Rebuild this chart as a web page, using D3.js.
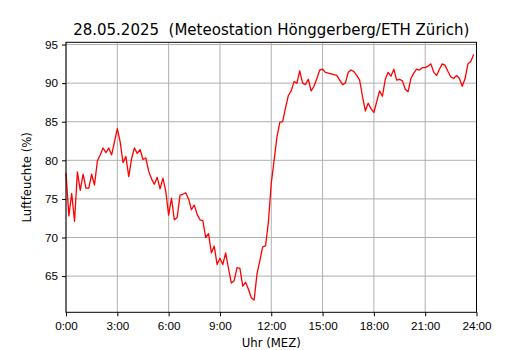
<!DOCTYPE html>
<html lang="de">
<head>
    <meta charset="utf-8">
    <title>Luftfeuchte Hönggerberg</title>
    <script src="https://d3js.org/d3.v7.min.js"></script>
    <style>
        body { margin: 0; background: white; }
        svg { display: block; font-family: "DejaVu Sans", sans-serif; }
        .tick text { font-size: 11.7px; fill: black; }
        .grid line { stroke: #b0b0b0; stroke-width: 1; }
    </style>
</head>
<body>
<div id="chart"></div>
<script>
    // relative humidity (%), 10-minute values from 0:00
    const startHour = 0;
    const stepMinutes = 10;
    const humidity = [
        78.4, 72.8, 75.7, 72.1, 78.5, 76.1, 78.2, 76.4, 76.4, 78.2, 76.8, 79.9,
        80.7, 81.6, 81.0, 81.6, 80.7, 82.4, 84.1, 82.4, 79.7, 80.5, 77.9, 80.2,
        81.6, 80.9, 81.4, 80.1, 80.3, 78.6, 77.6, 76.9, 77.8, 76.3, 77.7, 76.0,
        72.9, 75.1, 72.3, 72.6, 75.5, 75.6, 75.8, 75.0, 73.6, 74.2, 73.0, 72.3,
        72.2, 70.0, 70.5, 68.0, 68.9, 66.5, 67.3, 66.5, 68.0, 66.0, 64.1, 64.4,
        66.1, 66.0, 63.7, 64.2, 63.3, 62.2, 61.9, 65.3, 67.0, 68.8, 68.9, 72.0,
        77.0, 80.0, 83.0, 84.9, 85.0, 86.8, 88.4, 89.0, 90.2, 90.0, 91.6, 90.0,
        89.8, 90.5, 89.0, 89.6, 90.6, 91.7, 91.8, 91.4, 91.3, 91.2, 91.1, 91.0,
        90.4, 89.8, 90.0, 91.4, 91.7, 91.5, 91.0, 90.4, 88.3, 86.4, 87.4, 86.7,
        86.2, 87.6, 89.0, 88.3, 90.5, 91.4, 90.9, 91.8, 90.4, 90.5, 90.3, 89.2,
        88.9, 90.6, 91.3, 91.8, 91.7, 92.0, 92.0, 92.2, 92.5, 91.4, 91.0, 91.8,
        92.5, 92.3, 91.5, 90.8, 90.6, 91.0, 90.6, 89.6, 90.6, 92.5, 92.8, 93.7
    ];
    const xTicks = [0, 3, 6, 9, 12, 15, 18, 21, 24];
    const xTickLabels = ["0:00", "3:00", "6:00", "9:00", "12:00", "15:00", "18:00", "21:00", "24:00"];
    const yTicks = [65, 70, 75, 80, 85, 90, 95];

    const width = 530, height = 350;
    const margin = {top: 42.3, right: 53.5, bottom: 37.7, left: 66};

    const svg = d3.select("#chart").append("svg")
        .attr("width", width)
        .attr("height", height);

    const data = humidity.map((v, i) => ({h: startHour + i * stepMinutes / 60, v: v}));

    const x = d3.scaleLinear()
        .domain([0, 24])
        .range([margin.left, width - margin.right]);

    // matplotlib style 5% padding
    const ext = d3.extent(humidity);
    const pad = (ext[1] - ext[0]) * 0.05;
    const y = d3.scaleLinear()
        .domain([ext[0] - pad, ext[1] + pad])
        .range([height - margin.bottom, margin.top]);

    // grid
    const grid = svg.append("g").attr("class", "grid");
    grid.selectAll("line.gx").data(xTicks).enter().append("line")
        .attr("x1", d => x(d)).attr("x2", d => x(d))
        .attr("y1", margin.top).attr("y2", height - margin.bottom);
    grid.selectAll("line.gy").data(yTicks).enter().append("line")
        .attr("x1", margin.left).attr("x2", width - margin.right)
        .attr("y1", d => y(d)).attr("y2", d => y(d));

    // line
    const line = d3.line().x(d => x(d.h)).y(d => y(d.v));
    svg.append("path")
        .datum(data)
        .attr("fill", "none")
        .attr("stroke", "red")
        .attr("stroke-width", 1.3)
        .attr("stroke-linejoin", "round")
        .attr("d", line);

    // frame
    svg.append("rect")
        .attr("x", margin.left).attr("y", margin.top)
        .attr("width", width - margin.left - margin.right)
        .attr("height", height - margin.top - margin.bottom)
        .attr("fill", "none").attr("stroke", "black").attr("stroke-width", 1);

    // axes
    svg.append("g")
        .attr("transform", `translate(0,${height - margin.bottom})`)
        .call(d3.axisBottom(x)
            .tickValues(xTicks)
            .tickFormat((d, i) => xTickLabels[i])
            .tickSize(4).tickPadding(5).tickSizeOuter(0))
        .call(g => g.select(".domain").remove());

    svg.append("g")
        .attr("transform", `translate(${margin.left},0)`)
        .call(d3.axisLeft(y)
            .tickValues(yTicks)
            .tickSize(4).tickPadding(4).tickSizeOuter(0))
        .call(g => g.select(".domain").remove());

    // title and labels
    svg.append("text")
        .attr("x", (margin.left + width - margin.right) / 2)
        .attr("y", 34.5)
        .attr("text-anchor", "middle")
        .style("font-size", "15px")
        .style("white-space", "pre")
        .text("28.05.2025  (Meteostation Hönggerberg/ETH Zürich)");

    svg.append("text")
        .attr("x", (margin.left + width - margin.right) / 2)
        .attr("y", 347)
        .attr("text-anchor", "middle")
        .style("font-size", "11.7px")
        .text("Uhr (MEZ)");

    svg.append("text")
        .attr("transform", `translate(31,${(margin.top + height - margin.bottom) / 2}) rotate(-90)`)
        .attr("text-anchor", "middle")
        .style("font-size", "11.7px")
        .text("Luftfeuchte (%)");
</script>
</body>
</html>
